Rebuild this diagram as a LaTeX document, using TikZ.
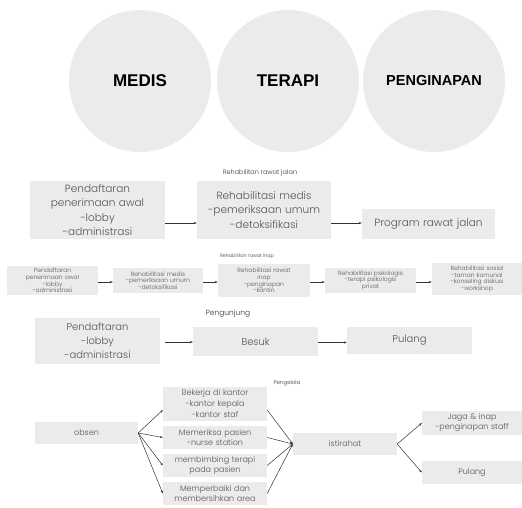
\documentclass[tikz,border=0pt]{standalone}
\usepackage{fontspec}
\setmainfont{Poppins Light}
\newfontfamily\capfont{Liberation Sans}
\usetikzlibrary{arrows.meta}
\definecolor{boxgray}{HTML}{EBEBEB}
\definecolor{txtgray}{HTML}{555555}
\definecolor{lblgray}{HTML}{333333}
\definecolor{linegray}{HTML}{333333}
\tikzset{
  bubble/.style={circle, fill=boxgray, minimum size=142pt, inner sep=0pt, text=black},
  flowbox/.style={fill=boxgray, inner sep=0pt, align=center, text=txtgray},
  bigtxt/.style={font=\fontsize{10.5}{14.5}\selectfont},
  midtxt/.style={font=\fontsize{10}{14}\selectfont},
  smalltxt/.style={font=\fontsize{6}{6.6}\selectfont},
  stafftxt/.style={font=\fontsize{8}{10}\selectfont},
  lbl/.style={inner sep=0pt, text=lblgray},
  conn/.style={draw=linegray, line width=0.5pt, -{Stealth[length=3pt,width=2.2pt]}},
}
\begin{document}
\begin{tikzpicture}[x=1pt,y=-1pt]
\useasboundingbox (0,0) rectangle (522,508);

% circles
\node[bubble, font=\capfont\bfseries\fontsize{17}{20}\selectfont] (medis) at (140,81) {MEDIS};
\node[bubble, font=\capfont\bfseries\fontsize{17}{20}\selectfont] (terapi) at (288,81) {TERAPI};
\node[bubble, font=\capfont\bfseries\fontsize{14.5}{17}\selectfont] (inap) at (434,81) {PENGINAPAN};

% row 1
\node[lbl, font=\fontsize{6.5}{8}\selectfont] (l1) at (260,173) {Rehabilitan rawat jalan};
\node[flowbox, bigtxt, minimum width=135pt, minimum height=58pt, text width=135pt] (a1) at (97.5,210)
  {Pendaftaran\\penerimaan awal\\-lobby\\-administrasi};
\node[flowbox, bigtxt, minimum width=134pt, minimum height=58pt, text width=134pt] (a2) at (264,210)
  {Rehabilitasi medis\\-pemeriksaan umum\\-detoksifikasi};
\node[flowbox, bigtxt, minimum width=133pt, minimum height=30pt, text width=133pt] (a3) at (428.5,224)
  {Program rawat jalan};
\draw[conn] ([yshift=-13pt]a1.east) -- ([yshift=-13pt]a1.east -| a2.west);
\draw[conn] ([yshift=-13pt]a2.east) -- ([yshift=-13pt]a2.east -| a3.west);

% row 2
\node[lbl, font=\fontsize{4.8}{5}\selectfont] (l2) at (247,256) {Rehabilitan rawat inap};
\node[flowbox, smalltxt, minimum width=91pt, minimum height=29pt, text width=91pt] (b1) at (52.5,280.5)
  {Pendaftaran\\penerimaan awal\\-lobby\\-administrasi};
\node[flowbox, smalltxt, minimum width=90pt, minimum height=25pt, text width=90pt] (b2) at (158,280.5)
  {Rehabilitasi medis\\-pemeriksaan umum\\-detoksifikasi};
\node[flowbox, smalltxt, minimum width=92pt, minimum height=33pt, text width=92pt] (b3) at (264,280.5)
  {Rehabilitasi rawat\\inap\\-penginapan\\-kantin};
\node[flowbox, smalltxt, minimum width=91pt, minimum height=25pt, text width=91pt] (b4) at (370.5,280.5)
  {Rehabilitasi psikologis\\-terapi psikologis\\privat};
\node[flowbox, smalltxt, minimum width=90pt, minimum height=32pt, text width=90pt] (b5) at (477,279)
  {Rehabilitasi sosial\\-taman komunal\\-konseling diskusi\\-workshop};
\draw[conn] ([yshift=-1.5pt]b1.east) -- ([yshift=-1.5pt]b1.east -| b2.west);
\draw[conn] ([yshift=-1.5pt]b2.east) -- ([yshift=-1.5pt]b2.east -| b3.west);
\draw[conn] ([yshift=-1.5pt]b3.east) -- ([yshift=-1.5pt]b3.east -| b4.west);
\draw[conn] ([yshift=-1.5pt]b4.east) -- ([yshift=-1.5pt]b4.east -| b5.west);

% row 3
\node[lbl, font=\fontsize{7.5}{9}\selectfont] (l3) at (228,314) {Pengunjung};
\node[flowbox, midtxt, minimum width=125pt, minimum height=46pt, text width=125pt] (c1) at (97.5,341)
  {Pendaftaran\\-lobby\\-administrasi};
\node[flowbox, midtxt, minimum width=125pt, minimum height=29pt, text width=125pt] (c2) at (255.5,341.5)
  {Besuk};
\node[flowbox, midtxt, minimum width=125pt, minimum height=27pt, text width=125pt] (c3) at (409.5,340.5)
  {Pulang};
\draw[conn] ([yshift=-1pt]c1.east) ++(5,0) coordinate (c1s) -- (c1s -| c2.west);
\draw[conn] ([yshift=-1pt]c2.east) -- ([yshift=-1pt]c2.east -| c3.west);

% row 4
\node[lbl, font=\fontsize{5.5}{7}\selectfont] (l4) at (287,383) {Pengelola};
\node[flowbox, stafftxt, minimum width=103pt, minimum height=22pt, text width=103pt] (d0) at (86.5,433)
  {obsen};
\node[flowbox, font=\fontsize{8}{11}\selectfont, minimum width=104pt, minimum height=34pt, text width=104pt] (d1) at (215,404)
  {Bekerja di kantor\\-kantor kepala\\-kantor staf};
\node[flowbox, stafftxt, minimum width=104pt, minimum height=23pt, text width=104pt] (d2) at (215,437.5)
  {Memeriksa pasien\\-nurse station};
\node[flowbox, stafftxt, minimum width=104pt, minimum height=23pt, text width=104pt] (d3) at (215,465.5)
  {membimbing terapi\\pada pasien};
\node[flowbox, stafftxt, minimum width=104pt, minimum height=23pt, text width=104pt] (d4) at (215,493.5)
  {Memperbaiki dan\\membersihkan area};
\node[flowbox, stafftxt, minimum width=104pt, minimum height=22pt, text width=104pt] (d5) at (345,444)
  {istirahat};
\node[flowbox, stafftxt, minimum width=100pt, minimum height=24pt, text width=100pt] (d6) at (472,423)
  {Jaga \& inap\\-penginapan staff};
\node[flowbox, stafftxt, minimum width=100pt, minimum height=23pt, text width=100pt] (d7) at (472,472.5)
  {Pulang};

\draw[conn] (d0.east) -- ([yshift=-6pt]d1.west);
\draw[conn] (d0.east) -- (d2.west);
\draw[conn] (d0.east) -- (d3.west);
\draw[conn] (d0.east) -- (d4.west);
\draw[conn] ([yshift=-6pt]d1.east) -- (d5.west);
\draw[conn] (d2.east) -- (d5.west);
\draw[conn] (d3.east) -- (d5.west);
\draw[conn] (d4.east) -- (d5.west);
\draw[conn] (d5.east) -- (d6.west);
\draw[conn] (d5.east) -- (d7.west);
\end{tikzpicture}
\end{document}
